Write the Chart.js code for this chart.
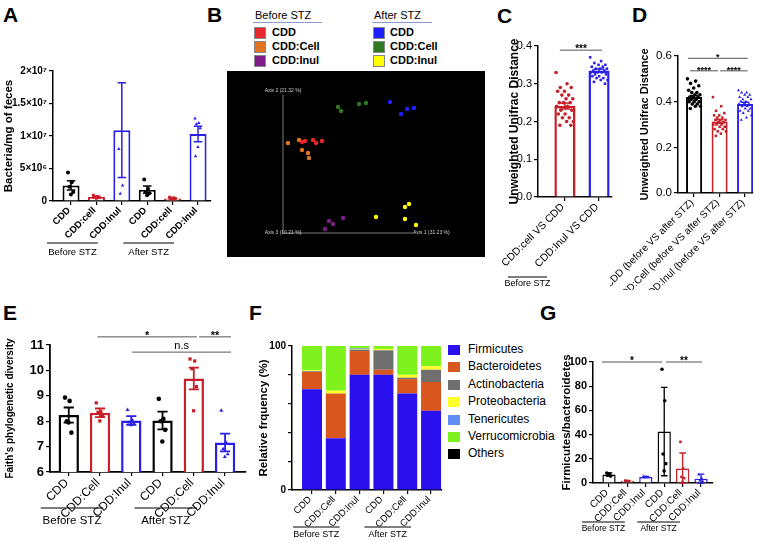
<!DOCTYPE html>
<html>
<head>
<meta charset="utf-8">
<script src="https://cdn.jsdelivr.net/npm/chart.js@4.4.1/dist/chart.umd.min.js"></script>
<style>
  body { margin: 0; background: #fff; width: 765px; height: 541px; position: relative; overflow: hidden;
         font-family: "Liberation Sans", Arial, sans-serif; color: #000; }
  canvas { position: absolute; }
  .letter { position: absolute; font-weight: bold; font-size: 21px; line-height: 1; }
  .lg { position: absolute; white-space: nowrap; line-height: 1; }
  .sq { position: absolute; box-sizing: border-box; }
</style>
</head>
<body>
<div class="letter" style="left:3px;top:4px">A</div>
<div class="letter" style="left:207px;top:4px">B</div>
<div class="letter" style="left:497px;top:5px">C</div>
<div class="letter" style="left:632px;top:4px">D</div>
<div class="letter" style="left:3px;top:302px">E</div>
<div class="letter" style="left:249px;top:302px">F</div>
<div class="letter" style="left:540px;top:302px">G</div>

<div id="legendB"></div>
<div id="legendF"></div>

<canvas id="cA" width="215" height="215" style="left:0;top:55px"></canvas>
<canvas id="cB" width="258" height="186" style="left:227px;top:71px;background:#000"></canvas>
<canvas id="cC" width="118" height="265" style="left:500px;top:30px"></canvas>
<canvas id="cD" width="155" height="250" style="left:610px;top:40px"></canvas>
<canvas id="cE" width="250" height="231" style="left:0;top:310px"></canvas>
<canvas id="cF" width="200" height="231" style="left:250px;top:310px"></canvas>
<canvas id="cG" width="210" height="211" style="left:555px;top:330px"></canvas>

<script>
// ---------- data ----------
const stzPhase = ['Before STZ', 'After STZ'];
const dietColors = ['#000000', '#c81e28', '#2a1fe6', '#000000', '#c81e28', '#2a1fe6'];
const dietMarks = ['circle', 'rect', 'triangle', 'circle', 'rect', 'triangle'];

// A: bacterial load
const dietsA = ['CDD', 'CDD:cell', 'CDD:Inul', 'CDD', 'CDD:cell', 'CDD:Inul'];
const loadTickLabels = ['0', '5×10⁶', '1×10⁷', '1.5×10⁷', '2×10⁷'];
const loadMean = [2.4e6, 0.6e6, 1.09e7, 1.75e6, 0.4e6, 1.03e7];
const loadSem = [0.7e6, 0.12e6, 7.3e6, 0.55e6, 0.1e6, 1.2e6];
const loadPoints = [
  [4.4e6, 2.9e6, 2.2e6, 1.4e6, 1.0e6],
  [0.9e6, 0.7e6, 0.6e6, 0.5e6, 0.4e6],
  [8.0e6, 2.4e6, 1.1e6],
  [3.3e6, 1.9e6, 1.4e6, 1.2e6, 0.9e6],
  [0.6e6, 0.5e6, 0.4e6, 0.3e6, 0.2e6],
  [1.27e7, 1.2e7, 1.18e7, 1.12e7, 8.3e6, 6.9e6]
];

// B: PCoA
const pcoaGroups = ['CDD', 'CDD:Cell', 'CDD:Inul'];
const pcoaColorsBefore = ['#e8262b', '#e2741f', '#7d1d8a'];
const pcoaColorsAfter = ['#1e1eff', '#2e7a1c', '#ffff00'];
const pcoaBeforeCdd = [[0.19, 0.91], [0.22, 0.92], [0.30, 0.93], [0.33, 0.90], [0.39, 0.92]];
const pcoaBeforeCell = [[0.05, 0.90], [0.16, 0.93], [0.19, 0.83], [0.25, 0.80], [0.26, 0.75]];
const pcoaBeforeInul = [[0.46, 0.12], [0.50, 0.09], [0.42, 0.04], [0.60, 0.15]];
const pcoaAfterCdd = [[1.07, 1.31], [1.18, 1.19], [1.24, 1.24], [1.31, 1.25], [1.41, 1.34]];
const pcoaAfterCell = [[0.55, 1.26], [0.58, 1.22], [0.76, 1.29], [0.83, 1.30]];
const pcoaAfterInul = [[0.93, 0.16], [1.22, 0.26], [1.26, 0.29], [1.22, 0.14], [1.33, 0.08]];
const pcoaAxisNames = ['Axis 1 (31.23 %)', 'Axis 2 (21.32 %)', 'Axis 3 (10.21 %)'];

// C: unweighted unifrac, before STZ
const compareC = ['CDD:cell VS CDD', 'CDD:Inul VS CDD'];
const distMeanC = [0.241, 0.335];
const distSemC = [0.008, 0.004];
const cellVsCdd = [0.33, 0.30, 0.29, 0.29, 0.28, 0.28, 0.27, 0.27, 0.26, 0.26, 0.25, 0.25, 0.25,
                   0.24, 0.24, 0.23, 0.23, 0.22, 0.22, 0.21, 0.21, 0.20, 0.20, 0.19, 0.19];
const inulVsCdd = [0.37, 0.36, 0.355, 0.35, 0.35, 0.345, 0.345, 0.34, 0.34, 0.34, 0.335, 0.335, 0.33,
                   0.33, 0.33, 0.325, 0.325, 0.32, 0.32, 0.315, 0.315, 0.31, 0.31, 0.305, 0.30];

// D: unweighted unifrac, before vs after STZ
const compareD = ['CDD (before VS after STZ)', 'CDD:Cell (before VS after STZ)', 'CDD:Inul (before VS after STZ)'];
const distMeanD = [0.42, 0.313, 0.39];
const distSemD = [0.007, 0.008, 0.007];
const cddBeforeAfter = [0.50, 0.49, 0.48, 0.47, 0.46, 0.45, 0.44, 0.44, 0.43, 0.43, 0.42, 0.42, 0.42,
                        0.41, 0.41, 0.41, 0.40, 0.40, 0.40, 0.39, 0.39, 0.38, 0.38, 0.37];
const cellBeforeAfter = [0.42, 0.38, 0.36, 0.35, 0.34, 0.34, 0.33, 0.33, 0.32, 0.32, 0.32, 0.31, 0.31,
                         0.30, 0.30, 0.30, 0.29, 0.29, 0.28, 0.28, 0.27, 0.27, 0.26, 0.25];
const inulBeforeAfter = [0.45, 0.44, 0.44, 0.43, 0.43, 0.42, 0.42, 0.41, 0.41, 0.40, 0.40, 0.39, 0.39,
                         0.39, 0.38, 0.38, 0.37, 0.37, 0.36, 0.36, 0.35, 0.34, 0.33, 0.32];

// E: Faith's phylogenetic diversity
const dietsE = ['CDD', 'CDD:Cell', 'CDD:Inul', 'CDD', 'CDD:Cell', 'CDD:Inul'];
const faithMean = [8.24, 8.33, 8.03, 8.03, 9.68, 7.16];
const faithSem = [0.3, 0.17, 0.17, 0.35, 0.43, 0.35];
const faithPoints = [
  [8.93, 8.8, 8.0, 7.55, 7.95],
  [8.72, 8.37, 8.35, 8.2, 8.01],
  [8.45, 8.05, 7.95, 7.9, 7.85],
  [8.88, 8.09, 8.0, 7.66, 7.2],
  [10.45, 10.37, 10.07, 9.36, 8.41],
  [8.42, 7.17, 6.9, 6.7, 6.6]
];

// F: relative frequency of phyla (%)
const dietsF = ['CDD', 'CDD:Cell', 'CDD:Inul', 'CDD', 'CDD:Cell', 'CDD:Inul'];
const phyla = ['Firmicutes', 'Bacteroidetes', 'Actinobacteria', 'Proteobacteria', 'Tenericutes', 'Verrucomicrobia', 'Others'];
const phylaColors = ['#2a10ee', '#d9561f', '#6f6f6f', '#ffff2a', '#5f8ff2', '#7df21c', '#000000'];
const firmicutes = [70, 36, 80, 80, 67, 55];
const bacteroidetes = [12, 31, 16.5, 3.5, 10, 20];
const actinobacteria = [0.5, 0, 1, 13.5, 1, 8.5];
const proteobacteria = [0.5, 2, 0.5, 1, 2, 2.5];
const tenericutes = [0, 0, 0.5, 0, 0, 0];
const verrucomicrobia = [17, 31, 1.5, 2, 20, 14];
const others = [0, 0, 0, 0, 0, 0];

// G: Firmicutes / Bacteroidetes
const dietsG = ['CDD', 'CDD:Cell', 'CDD:Inul', 'CDD', 'CDD:Cell', 'CDD:Inul'];
const fbMean = [7, 1.8, 5, 42.5, 12, 3.6];
const fbSd = [1.3, 0.2, 0.5, 36.5, 12.8, 3.8];
const fbPoints = [
  [8.2, 7.6, 6.5, 5.7],
  [2.0, 1.8, 1.6],
  [5.5, 5.0, 4.6],
  [94, 68, 24, 16, 10],
  [34, 12, 5, 4, 1],
  [7, 4, 2, 1.5]
];

// ---------- helpers ----------
const FONT = '"Liberation Sans", Arial, sans-serif';
Chart.defaults.font.family = FONT;
Chart.defaults.color = '#000';
Chart.defaults.animation = false;
Chart.defaults.responsive = false;
Chart.defaults.plugins.legend.display = false;
Chart.defaults.plugins.tooltip.enabled = false;

function fixWidth(w) { return s => { s.width = w; s.paddingTop = 0; s.paddingBottom = 0; }; }
function fixHeight(h) { return s => { s.height = h; s.paddingLeft = 0; s.paddingRight = 0; }; }

// spread the dots of one group across the bar (position only)
function jitter(k, n, spread) {
  if (n < 2) return 0;
  return (((k * 0.618034) % 1) - 0.5) * 2 * spread;
}

function errorBarsPlugin(err, errLo, colors, lw) {
  return {
    id: 'errorBars',
    afterDatasetsDraw(chart) {
      const {ctx} = chart;
      const y = chart.scales.y;
      const bars = chart.getDatasetMeta(0).data;
      const means = chart.data.datasets[0].data;
      ctx.save();
      ctx.lineWidth = lw;
      bars.forEach((bar, i) => {
        const m = means[i].y;
        const lo = errLo ? errLo[i] : err[i];
        const pTop = y.getPixelForValue(m + err[i]);
        const pBot = y.getPixelForValue(Math.max(m - lo, y.min));
        const half = bar.width * 0.25;
        ctx.strokeStyle = colors[i];
        ctx.beginPath();
        ctx.moveTo(bar.x, pTop); ctx.lineTo(bar.x, pBot);
        ctx.moveTo(bar.x - half, pTop); ctx.lineTo(bar.x + half, pTop);
        ctx.moveTo(bar.x - half, pBot); ctx.lineTo(bar.x + half, pBot);
        ctx.stroke();
      });
      ctx.restore();
    }
  };
}

function bracketsPlugin(items, font) {
  return {
    id: 'brackets',
    afterDraw(chart) {
      const {ctx} = chart;
      const {x, y} = chart.scales;
      ctx.save();
      items.forEach(b => {
        const py = y.getPixelForValue(b.y);
        const x0 = x.getPixelForValue(b.from), x1 = x.getPixelForValue(b.to);
        ctx.strokeStyle = '#555';
        ctx.lineWidth = 1;
        ctx.beginPath(); ctx.moveTo(x0, py); ctx.lineTo(x1, py); ctx.stroke();
        ctx.fillStyle = '#000';
        ctx.font = b.text.includes('*') ? 'bold ' + font : font;
        ctx.textAlign = 'center';
        ctx.textBaseline = 'alphabetic';
        ctx.fillText(b.text, (x0 + x1) / 2, b.text.includes('*') ? py + 2 : py - 3);
      });
      ctx.restore();
    }
  };
}

// "Before STZ" / "After STZ" underlines below the rotated labels
function groupsPlugin(o) {
  return {
    id: 'stzGroups',
    afterDraw(chart) {
      const {ctx, chartArea} = chart;
      const x = chart.scales.x;
      ctx.save();
      ctx.strokeStyle = '#000';
      ctx.lineWidth = 1;
      ctx.fillStyle = '#000';
      ctx.font = o.font;
      ctx.textAlign = 'center';
      ctx.textBaseline = 'middle';
      o.spans.forEach(s => {
        const x0 = x.getPixelForValue(s.from) + o.dx0;
        const x1 = x.getPixelForValue(s.to) + o.dx1;
        const ly = chartArea.bottom + o.lineDy;
        ctx.beginPath(); ctx.moveTo(x0, ly); ctx.lineTo(x1, ly); ctx.stroke();
        ctx.fillText(s.text, (x0 + x1) / 2, chartArea.bottom + o.textDy);
      });
      ctx.restore();
    }
  };
}

const stzSpans = [{text: stzPhase[0], from: 0, to: 2}, {text: stzPhase[1], from: 3, to: 5}];

function barPanel(id, p) {
  const datasets = [{
    type: 'bar',
    data: p.mean.map((v, i) => ({x: i, y: v})),
    backgroundColor: '#fff',
    borderColor: p.colors,
    borderWidth: p.bw,
    barPercentage: p.barPct,
    categoryPercentage: 1,
    order: 2
  }];
  p.points.forEach((vals, i) => {
    datasets.push({
      type: 'scatter',
      data: vals.map((v, k) => ({x: i + jitter(k, vals.length, p.spread), y: v})),
      backgroundColor: p.colors[i],
      borderColor: p.colors[i],
      borderWidth: 0,
      pointStyle: p.marks[i],
      pointRadius: p.pr,
      order: 1
    });
  });
  const plugins = [errorBarsPlugin(p.err, p.errLo, p.colors, p.ew)];
  if (p.brackets) plugins.push(bracketsPlugin(p.brackets, p.bracketFont));
  if (p.groups) plugins.push(groupsPlugin(p.groups));
  return new Chart(document.getElementById(id), {
    type: 'bar',
    data: {datasets},
    plugins,
    options: {
      devicePixelRatio: 1,
      layout: {padding: {left: 0, top: p.top, right: p.right, bottom: 0}},
      scales: {
        x: {
          type: 'linear', min: p.xMin, max: p.xMax, offset: false,
          afterBuildTicks: s => { s.ticks = p.labels.map((_, i) => ({value: i})); },
          afterFit: fixHeight(p.xH),
          grid: {display: true, offset: false, drawOnChartArea: false, drawTicks: true, tickLength: 4, color: '#000', lineWidth: 1.2},
          border: {display: true, color: '#000', width: p.aw},
          ticks: {autoSkip: false, minRotation: 45, maxRotation: 45, padding: 0, labelOffset: -2,
                  font: p.xFont, color: '#000', callback: (v, i) => p.labels[i]}
        },
        y: {
          min: p.yMin, max: p.yMax,
          afterFit: fixWidth(p.yW),
          grid: {display: true, drawOnChartArea: false, drawTicks: true, tickLength: 4, color: '#000', lineWidth: 1.2},
          border: {display: true, color: '#000', width: p.aw},
          ticks: {stepSize: p.yStep, padding: 2, font: p.yFont, color: '#000', callback: p.yTick},
          title: {display: true, text: p.yTitle, font: p.titleFont, color: '#000', padding: {top: p.titlePad, bottom: 0}}
        }
      }
    }
  });
}

// ---------- A ----------
barPanel('cA', {
  labels: dietsA, mean: loadMean, err: loadSem, points: loadPoints,
  colors: dietColors, marks: dietMarks,
  xMin: -0.71, xMax: 5.51, barPct: 0.67, bw: 2, ew: 1.5, aw: 1.5, pr: 2, spread: 0.12,
  yMin: 0, yMax: 2e7, yStep: 5e6, yTick: v => loadTickLabels[Math.round(v / 5e6)],
  yTitle: 'Bacteria/mg of feces', titleFont: {size: 11.5, weight: 'bold'}, titlePad: 2,
  yFont: {size: 10, weight: 'bold'}, xFont: {size: 9.5, weight: 'bold'},
  yW: 53, top: 16, xH: 69, right: 4,
  groups: {spans: stzSpans, lineDy: 42, textDy: 51, dx0: -24, dx1: -24, font: '9.5px ' + FONT}
});

// ---------- B ----------
const pcoaSets = [
  [pcoaBeforeCdd, pcoaColorsBefore[0]], [pcoaBeforeCell, pcoaColorsBefore[1]], [pcoaBeforeInul, pcoaColorsBefore[2]],
  [pcoaAfterCdd, pcoaColorsAfter[0]], [pcoaAfterCell, pcoaColorsAfter[1]], [pcoaAfterInul, pcoaColorsAfter[2]]
];
new Chart(document.getElementById('cB'), {
  type: 'scatter',
  data: {
    datasets: pcoaSets.map(([pts, col]) => ({
      data: pts.map(([x, y]) => ({x, y})),
      backgroundColor: col, borderWidth: 0, pointRadius: 2.2, clip: false
    }))
  },
  plugins: [{
    id: 'pcoaAxes',
    beforeDatasetsDraw(chart) {
      const {ctx, chartArea: {left, right, top, bottom}} = chart;
      ctx.save();
      ctx.strokeStyle = '#9a9a9a';
      ctx.lineWidth = 0.8;
      ctx.beginPath();
      ctx.moveTo(left, top); ctx.lineTo(left, bottom); ctx.lineTo(right, bottom);
      ctx.stroke();
      ctx.fillStyle = '#d0d0d0';
      ctx.font = '5px ' + FONT;
      ctx.textBaseline = 'middle';
      ctx.textAlign = 'center';
      ctx.fillText(pcoaAxisNames[1], left, top - 4);
      ctx.fillText(pcoaAxisNames[2], left, bottom);
      ctx.textAlign = 'left';
      ctx.fillText(pcoaAxisNames[0], right, bottom);
      ctx.restore();
    }
  }],
  options: {
    devicePixelRatio: 1,
    layout: {padding: {left: 56, right: 72, top: 24, bottom: 24}},
    scales: {
      x: {type: 'linear', min: 0, max: 1.3, display: false},
      y: {type: 'linear', min: 0, max: 1.38, display: false}
    }
  }
});

// legend B
(function () {
  const el = document.getElementById('legendB');
  let html = '';
  [[stzPhase[0], pcoaColorsBefore, 255, 254, 272, 69], [stzPhase[1], pcoaColorsAfter, 374, 373, 390, 60]].forEach(([title, cols, tx, sx, lx, lw]) => {
    html += `<div class="lg" style="left:${tx}px;top:10px;font-size:11px">${title}</div>`;
    html += `<div style="position:absolute;left:${sx - 1}px;top:22px;width:${lw}px;height:1px;background:#8c9cd0"></div>`;
    pcoaGroups.forEach((g, i) => {
      const cy = 33 + i * 14;
      html += `<div class="sq" style="left:${sx}px;top:${cy - 6}px;width:12px;height:12px;background:${cols[i]};border:1px solid #888"></div>`;
      html += `<div class="lg" style="left:${lx}px;top:${cy - 6}px;font-size:11px;font-weight:bold">${g}</div>`;
    });
  });
  el.innerHTML = html;
})();

// ---------- C ----------
barPanel('cC', {
  labels: compareC, mean: distMeanC, err: distSemC, points: [cellVsCdd, inulVsCdd],
  colors: ['#c81e28', '#2a1fe6'], marks: ['circle', 'rect'],
  xMin: -0.79, xMax: 1.38, barPct: 0.62, bw: 2.5, ew: 1.5, aw: 1.5, pr: 1.8, spread: 0.26,
  yMin: 0, yMax: 0.4, yStep: 0.1, yTick: v => v.toFixed(1),
  yTitle: 'Unweighted Unifrac Distance', titleFont: {size: 12, weight: 'bold'}, titlePad: 7,
  yFont: {size: 11}, xFont: {size: 10.5},
  yW: 38, top: 16, xH: 98, right: 6,
  brackets: [{from: -0.15, to: 1.09, y: 0.389, text: '***'}], bracketFont: '10px ' + FONT,
  groups: {spans: [{text: stzPhase[0], from: 0, to: 1}], lineDy: 80, textDy: 87, dx0: -57, dx1: -52, font: '9px ' + FONT}
});

// ---------- D ----------
barPanel('cD', {
  labels: compareD, mean: distMeanD, err: distSemD, points: [cddBeforeAfter, cellBeforeAfter, inulBeforeAfter],
  colors: ['#000000', '#c81e28', '#2a1fe6'], marks: ['circle', 'rect', 'triangle'],
  xMin: -0.63, xMax: 2.31, barPct: 0.63, bw: 2, ew: 1.5, aw: 1.5, pr: 1.8, spread: 0.26,
  yMin: 0, yMax: 0.6, yStep: 0.2, yTick: v => v.toFixed(1),
  yTitle: 'Unweighted Unifrac Distance', titleFont: {size: 11, weight: 'bold'}, titlePad: 28,
  yFont: {size: 11.5}, xFont: {size: 10},
  yW: 68, top: 16, xH: 97, right: 12,
  brackets: [
    {from: -0.24, to: 2.1, y: 0.59, text: '*'},
    {from: -0.16, to: 0.94, y: 0.535, text: '****'},
    {from: 1.02, to: 2.1, y: 0.535, text: '****'}
  ], bracketFont: '9px ' + FONT
});

// ---------- E ----------
barPanel('cE', {
  labels: dietsE, mean: faithMean, err: faithSem, points: faithPoints,
  colors: dietColors, marks: dietMarks,
  xMin: -0.6, xMax: 5.67, barPct: 0.65, bw: 2.5, ew: 1.8, aw: 1.8, pr: 2.3, spread: 0.12,
  yMin: 6, yMax: 11, yStep: 1, yTick: v => String(v),
  yTitle: "Faith's phylogenetic diversity", titleFont: {size: 10, weight: 'bold'}, titlePad: 4,
  yFont: {size: 13, weight: 'bold'}, xFont: {size: 12},
  yW: 50, top: 35, xH: 69, right: 3,
  brackets: [
    {from: 0.92, to: 4.1, y: 11.32, text: '*'},
    {from: 4.17, to: 5.19, y: 11.32, text: '**'},
    {from: 2.03, to: 5.19, y: 10.72, text: 'n.s'}
  ], bracketFont: '11px ' + FONT,
  groups: {spans: stzSpans, lineDy: 36, textDy: 49, dx0: -28, dx1: -28, font: '11.5px ' + FONT}
});

// ---------- F ----------
const phylaSeries = [firmicutes, bacteroidetes, actinobacteria, proteobacteria, tenericutes, verrucomicrobia, others];
new Chart(document.getElementById('cF'), {
  type: 'bar',
  data: {
    datasets: phylaSeries.map((vals, s) => ({
      label: phyla[s],
      data: vals.map((v, i) => ({x: i, y: v})),
      backgroundColor: phylaColors[s],
      borderWidth: 0,
      barPercentage: 0.84,
      categoryPercentage: 1
    }))
  },
  plugins: [groupsPlugin({spans: stzSpans, lineDy: 37, textDy: 45, dx0: -19, dx1: -20, font: '9px ' + FONT})],
  options: {
    devicePixelRatio: 1,
    layout: {padding: {left: 0, top: 36, right: 8, bottom: 0}},
    scales: {
      x: {
        type: 'linear', min: -0.84, max: 5.46, stacked: true, offset: false,
        afterBuildTicks: s => { s.ticks = dietsF.map((_, i) => ({value: i})); },
        afterFit: fixHeight(51),
        grid: {display: true, offset: false, drawOnChartArea: false, tickLength: 4, color: '#000', lineWidth: 1.2},
        border: {display: true, color: '#000', width: 1.5},
        ticks: {autoSkip: false, minRotation: 45, maxRotation: 45, padding: 0, labelOffset: -2,
                font: {size: 9.5}, color: '#000', callback: (v, i) => dietsF[i]}
      },
      y: {
        min: 0, max: 100, stacked: true,
        afterFit: fixWidth(42),
        grid: {display: true, drawOnChartArea: false, tickLength: 4, color: '#000', lineWidth: 1.2},
        border: {display: true, color: '#000', width: 1.5},
        ticks: {stepSize: 10, padding: 2, font: {size: 10, weight: 'bold'}, color: '#000',
                callback: v => (v % 50 === 0 ? String(v) : '')},
        title: {display: true, text: 'Relative frquency (%)', font: {size: 11.5, weight: 'bold'},
                color: '#000', padding: {top: 7, bottom: 0}}
      }
    }
  }
});

// legend F
(function () {
  const el = document.getElementById('legendF');
  el.innerHTML = phyla.map((name, i) => {
    const cy = 350 + i * 17.4;
    return `<div class="sq" style="left:448px;top:${cy - 5}px;width:12px;height:10px;background:${phylaColors[i]}"></div>` +
           `<div class="lg" style="left:468px;top:${cy - 7}px;font-size:12px">${name}</div>`;
  }).join('');
})();

// ---------- G ----------
barPanel('cG', {
  labels: dietsG, mean: fbMean, err: fbSd, points: fbPoints,
  colors: dietColors, marks: dietMarks,
  xMin: -0.87, xMax: 5.65, barPct: 0.72, bw: 1.5, ew: 1.3, aw: 1.5, pr: 1.8, spread: 0.12,
  yMin: 0, yMax: 100, yStep: 20, yTick: v => String(v),
  yTitle: 'Firmicutes/bacteroidetes', titleFont: {size: 11.5, weight: 'bold'}, titlePad: 5,
  yFont: {size: 11, weight: 'bold'}, xFont: {size: 10},
  yW: 38, top: 32, xH: 58, right: 52,
  brackets: [
    {from: -0.38, to: 2.88, y: 100, text: '*'},
    {from: 3.1, to: 5.05, y: 100, text: '**'}
  ], bracketFont: '10px ' + FONT,
  groups: {spans: stzSpans, lineDy: 39, textDy: 46, dx0: -27, dx1: -21, font: '8.5px ' + FONT}
});
</script>
</body>
</html>
